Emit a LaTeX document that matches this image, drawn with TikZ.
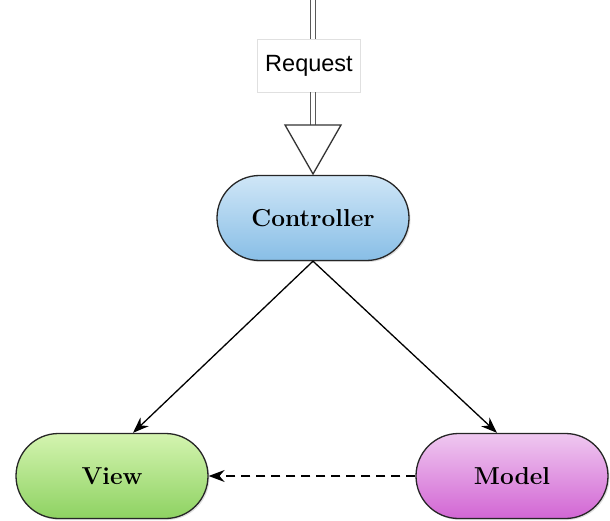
\documentclass[tikz,border=0pt]{standalone}
\usepackage{fontspec}
\newfontfamily\labelfont{Liberation Sans}
\usetikzlibrary{arrows.meta,shapes.misc,shadows}
\definecolor{ctrltop}{HTML}{CFE6F7}
\definecolor{ctrlbot}{HTML}{88BEE6}
\definecolor{viewtop}{HTML}{D4F4B0}
\definecolor{viewbot}{HTML}{8ED262}
\definecolor{modeltop}{HTML}{EFC8F0}
\definecolor{modelbot}{HTML}{D266D4}
\tikzset{
  mvcbox/.style={rounded rectangle, draw=black!85, line width=1.3pt,
    minimum width=192pt, minimum height=85pt, inner sep=0pt,
    font=\fontsize{24.5}{28}\selectfont\bfseries,
    drop shadow={shadow xshift=1.5pt, shadow yshift=-1.5pt, opacity=0.25}},
  flow/.style={line width=1.3pt, -{Stealth[length=16pt, width=12pt]}},
  reqline/.style={line width=1.2pt, draw=black!65},
}
\begin{document}
\begin{tikzpicture}[x=1pt, y=-1pt]
  \useasboundingbox (0,0) rectangle (610,521);
  % the three MVC parts
  \node[mvcbox, top color=ctrltop, bottom color=ctrlbot] (ctrl) at (313,218) {Controller};
  \node[mvcbox, top color=viewtop, bottom color=viewbot] (view) at (112,476) {View};
  \node[mvcbox, top color=modeltop, bottom color=modelbot] (model) at (512,476) {Model};
  % incoming request: a double shaft ending in a hollow head
  \coordinate (srcL) at (310.5,0);
  \coordinate (srcR) at (315.5,0);
  \coordinate (tipL) at (310.5,125);
  \coordinate (tipR) at (315.5,125);
  \node[draw=black!12, fill=white, minimum width=103pt, minimum height=53pt,
        font=\labelfont\fontsize{23.5}{28}\selectfont] (req) at (309,65.5) {Request};
  \draw[reqline] (srcL) -- (srcL |- req.north);
  \draw[reqline] (srcR) -- (srcR |- req.north);
  \draw[reqline] (tipL |- req.south) -- (tipL);
  \draw[reqline] (tipR |- req.south) -- (tipR);
  \draw[line width=1.3pt, draw=black!80, fill=white]
    (285,125) -- (341,125) -- (313,174) -- cycle;
  % controller drives view and model
  \draw[flow] (ctrl.south) -- (view.north -| 133,0);
  \draw[flow] (ctrl.south) -- (model.north -| 497,0);
  % model notifies view
  \draw[flow, dashed, dash pattern=on 9pt off 6pt] (model.west) -- (view.east);
\end{tikzpicture}
\end{document}
